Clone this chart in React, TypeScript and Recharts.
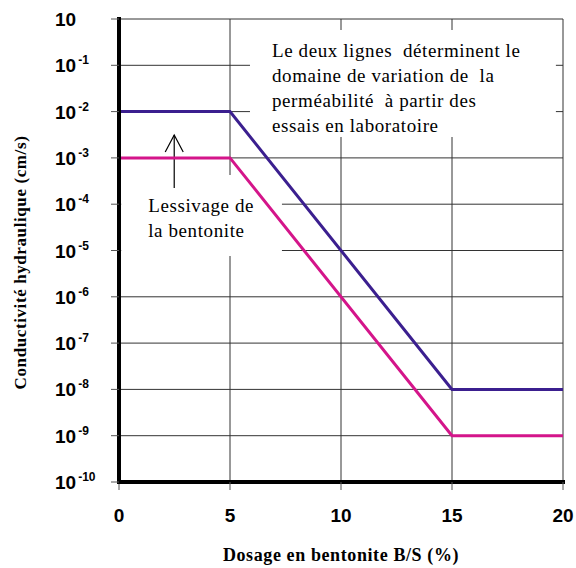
import React from 'react';
import {
    LineChart,
    Line,
    XAxis,
    YAxis,
    CartesianGrid,
    ReferenceArea,
    Label
} from 'recharts';

// dosage B/S (%) and the two permeability bounds (cm/s)
const dosage = [0, 5, 15, 20];
const upperK = [1e-2, 1e-2, 1e-8, 1e-8];
const lowerK = [1e-3, 1e-3, 1e-9, 1e-9];

const xTicks = [0, 5, 10, 15, 20];
const yTicks = [1, 1e-1, 1e-2, 1e-3, 1e-4, 1e-5, 1e-6, 1e-7, 1e-8, 1e-9, 1e-10];
const yTickExp = ['', '-1', '-2', '-3', '-4', '-5', '-6', '-7', '-8', '-9', '-10'];

const noteTop = [
    'Le deux lignes  déterminent le',
    'domaine de variation de  la',
    'perméabilité  à partir des',
    'essais en laboratoire'
];
const noteLeft = ['Lessivage de', 'la bentonite'];

const data = dosage.map((d, i) => ({ x: d, upper: upperK[i], lower: lowerK[i] }));

const SANS = "'Liberation Sans', Arial, sans-serif";
const SERIF = "'Liberation Serif', 'Times New Roman', serif";

const tickStyle = { fontFamily: SANS, fontWeight: 'bold' as const, fontSize: 19, fill: '#000' };
const noteStyle = { fontFamily: SERIF, fontSize: 19, letterSpacing: 0.6, fill: '#000', whiteSpace: 'pre' as const };

const YTick = ({ x, y, payload }: any) => {
    const i = yTicks.findIndex((t) => Math.abs(Math.log10(t) - Math.log10(payload.value)) < 1e-6);
    const exp = yTickExp[i] || '';
    return (
        <text x={x - 54} y={y + 7} style={tickStyle}>
            10
            {exp && (
                <tspan dx={2} dy={-8} style={{ fontSize: 12 }}>
                    {exp}
                </tspan>
            )}
        </text>
    );
};

const XTick = ({ x, y, payload }: any) => (
    <text x={x} y={y} dy={30} textAnchor="middle" style={tickStyle}>
        {payload.value}
    </text>
);

const NoteTop = ({ viewBox }: any) => {
    const { x, y } = viewBox;
    return (
        <text style={noteStyle}>
            {noteTop.map((line, i) => (
                <tspan key={i} x={x + 22} y={y + 27 + i * 25}>
                    {line}
                </tspan>
            ))}
        </text>
    );
};

const NoteLeft = ({ viewBox }: any) => {
    const { x, y } = viewBox;
    const ax = x + 53;
    return (
        <g>
            <line x1={ax} y1={y + 13} x2={ax} y2={y - 40} stroke="#000" strokeWidth={1.2} />
            <polyline
                points={`${ax - 9},${y - 23} ${ax},${y - 40} ${ax + 9},${y - 23}`}
                fill="none"
                stroke="#000"
                strokeWidth={1.2}
            />
            <text style={noteStyle}>
                {noteLeft.map((line, i) => (
                    <tspan key={i} x={x + 27} y={y + 37 + i * 25}>
                        {line}
                    </tspan>
                ))}
            </text>
        </g>
    );
};

const YTitle = ({ viewBox }: any) => {
    const cx = viewBox.x + 20;
    const cy = viewBox.y + viewBox.height / 2 + 12;
    return (
        <text
            transform={`translate(${cx}, ${cy}) rotate(-90)`}
            textAnchor="middle"
            dominantBaseline="central"
            style={{ fontFamily: SERIF, fontWeight: 'bold', fontSize: 17, letterSpacing: 0.6, fill: '#000' }}
        >
            Conductivité hydraulique (cm/s)
        </text>
    );
};

export default function App() {
    return (
        <div style={{ position: 'absolute', left: 0, top: 0, background: '#fff' }}>
            <LineChart width={576} height={568} data={data} margin={{ top: 19, right: 13, bottom: 0, left: 0 }}>
                <CartesianGrid stroke="#333" strokeWidth={1} />
                <XAxis
                    dataKey="x"
                    type="number"
                    domain={[0, 20]}
                    ticks={xTicks}
                    interval={0}
                    height={86}
                    tickSize={8}
                    tickMargin={2}
                    axisLine={{ stroke: '#000', strokeWidth: 4, strokeLinecap: 'square' }}
                    tickLine={{ stroke: '#555', strokeWidth: 1 }}
                    tick={<XTick />}
                >
                    <Label
                        value="Dosage en bentonite B/S (%)"
                        position="insideBottom"
                        offset={7}
                        style={{ fontFamily: SERIF, fontWeight: 'bold', fontSize: 18, letterSpacing: 0.6, fill: '#000' }}
                    />
                </XAxis>
                <XAxis
                    xAxisId="top"
                    orientation="top"
                    dataKey="x"
                    type="number"
                    domain={[0, 20]}
                    height={0}
                    tick={false}
                    tickLine={false}
                    axisLine={{ stroke: '#000', strokeWidth: 4, strokeLinecap: 'square' }}
                />
                <YAxis
                    scale="log"
                    domain={[1e-10, 1]}
                    allowDataOverflow
                    ticks={yTicks}
                    interval={0}
                    width={119}
                    tickSize={8}
                    tickMargin={2}
                    axisLine={{ stroke: '#000', strokeWidth: 4, strokeLinecap: 'square' }}
                    tickLine={{ stroke: '#555', strokeWidth: 1 }}
                    tick={<YTick />}
                    label={<YTitle />}
                />
                <YAxis
                    yAxisId="right"
                    orientation="right"
                    width={0}
                    tick={false}
                    tickLine={false}
                    axisLine={{ stroke: '#000', strokeWidth: 4, strokeLinecap: 'square' }}
                />
                <ReferenceArea
                    x1={5.9}
                    x2={19.68}
                    y1={0.578}
                    y2={2.83e-3}
                    fill="#fff"
                    fillOpacity={1}
                    stroke="none"
                    label={<NoteTop />}
                />
                <ReferenceArea
                    x1={0.1}
                    x2={7.34}
                    y1={4.27e-4}
                    y2={7.6e-6}
                    fill="#fff"
                    fillOpacity={1}
                    stroke="none"
                    label={<NoteLeft />}
                />
                <Line
                    type="linear"
                    dataKey="upper"
                    stroke="#3b1f8f"
                    strokeWidth={3}
                    dot={false}
                    isAnimationActive={false}
                />
                <Line
                    type="linear"
                    dataKey="lower"
                    stroke="#d4158a"
                    strokeWidth={3}
                    dot={false}
                    isAnimationActive={false}
                />
            </LineChart>
        </div>
    );
}
